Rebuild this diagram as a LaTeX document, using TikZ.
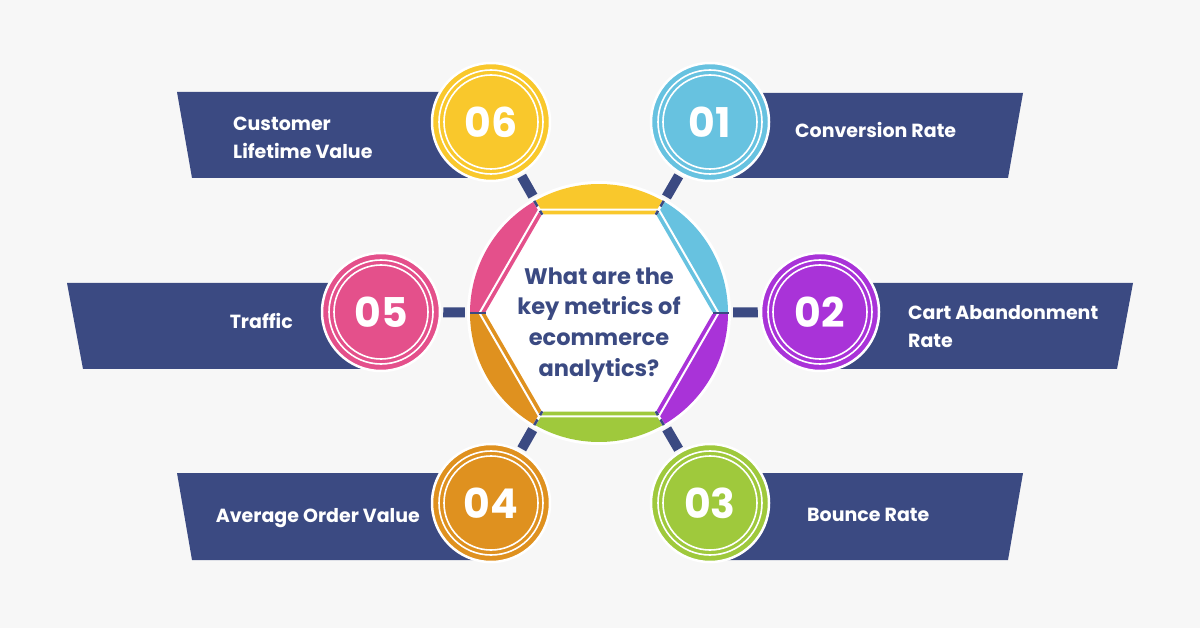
\documentclass[tikz,border=0pt]{standalone}
\usepackage{fontspec}
\setmainfont{Poppins}
\definecolor{navy}{HTML}{3B4A82}
\definecolor{bgc}{HTML}{F7F7F7}
\definecolor{yellowc}{HTML}{F9C82C}
\definecolor{bluec}{HTML}{67C2E0}
\definecolor{purplec}{HTML}{A933D8}
\definecolor{greenc}{HTML}{9FC93C}
\definecolor{orangec}{HTML}{DF911F}
\definecolor{pinkc}{HTML}{E4508B}
\tikzset{
  banner/.style={fill=navy},
  numcirc/.style={circle, minimum size=118pt, inner sep=0pt, draw=white, line width=2.5pt, text=white, font=\fontsize{41}{41}\selectfont\bfseries},
  lbl/.style={text=white, font=\fontsize{19}{28}\selectfont\bfseries, inner sep=0pt},
  bar/.style={draw=navy, line width=10pt, shorten <=2pt, shorten >=2pt},
  ring/.style={draw=white, line width=1.6pt},
  gapline/.style={draw=white, line width=2.5pt},
  navymark/.style={draw=navy, line width=2.5pt},
}
\begin{document}
\begin{tikzpicture}[x=1pt,y=-1pt]
\useasboundingbox (0,0) rectangle (1200,628);
\fill[bgc] (0,0) rectangle (1200,628);

% banners
\fill[banner] (177,92) -- (491,92) -- (491,178) -- (192,178) -- cycle;
\fill[banner] (710,93) -- (1023,93) -- (1008,178) -- (710,178) -- cycle;
\fill[banner] (67,283) -- (381,283) -- (381,369) -- (83,369) -- cycle;
\fill[banner] (820,283) -- (1133,283) -- (1117,369) -- (820,369) -- cycle;
\fill[banner] (177,473) -- (491,473) -- (491,560) -- (192,560) -- cycle;
\fill[banner] (710,473) -- (1023,473) -- (1008,560) -- (710,560) -- cycle;

% number circles
\node[numcirc, fill=yellowc] (n06) at (491,122) {06};
\node[numcirc, fill=bluec]   (n01) at (710,122) {01};
\node[numcirc, fill=pinkc]   (n05) at (381,312) {05};
\node[numcirc, fill=purplec] (n02) at (820,312) {02};
\node[numcirc, fill=orangec] (n04) at (491,503) {04};
\node[numcirc, fill=greenc]  (n03) at (710,503) {03};
\foreach \n in {n06,n01,n05,n02,n04,n03}{
  \draw[ring] (\n.center) circle[radius=52pt];
  \draw[ring] (\n.center) circle[radius=47pt];
}

% hub
\node[circle, minimum size=264pt, inner sep=0pt, fill=white] (hub) at (599,313) {};
\begin{scope}[shift={(599,313)}]
  \foreach \a/\c in {240/yellowc,300/bluec,0/purplec,60/greenc,120/orangec,180/pinkc}{
    \fill[\c] (\a:129) arc[start angle=\a, end angle=\a+60, radius=129] -- ({\a+60}:114) -- (\a:114) -- cycle;
  }
  \draw[white, line width=2pt] (0:119.5) -- (60:119.5) -- (120:119.5) -- (180:119.5) -- (240:119.5) -- (300:119.5) -- cycle;
  \foreach \a in {0,60,...,300}{ \draw[gapline] (\a:112) -- (\a:131); }
  \foreach \a in {60,120,240,300}{
    \draw[navymark] (\a:123) -- (\a:129.5);
    \draw[navymark] (\a:113.5) -- (\a:118);
  }
  \foreach \a in {0,180}{ \draw[navymark] (\a:113.5) -- (\a:129.5); }
\end{scope}
\node[text=navy, font=\fontsize{22.5}{30.8}\selectfont\bfseries, align=center, inner sep=0pt] (q) at (599,325)
  {What are the\\key metrics of\\ecommerce\\analytics?};

% connectors
\foreach \n in {n06,n01,n05,n02,n04,n03}{ \draw[bar] (\n) -- (hub); }

% labels
\node[lbl, anchor=west, align=left] (t06) at (233,138) {Customer\\Lifetime Value};
\node[lbl, anchor=mid west] (t01) at (795,135) {Conversion Rate};
\node[lbl, anchor=mid east] (t05) at (293,326) {Traffic};
\node[lbl, anchor=west, align=left] (t02) at (908,327) {Cart Abandonment\\Rate};
\node[lbl, anchor=mid east] (t04) at (420,520) {Average Order Value};
\node[lbl, anchor=mid west] (t03) at (807,519) {Bounce Rate};
\end{tikzpicture}
\end{document}
